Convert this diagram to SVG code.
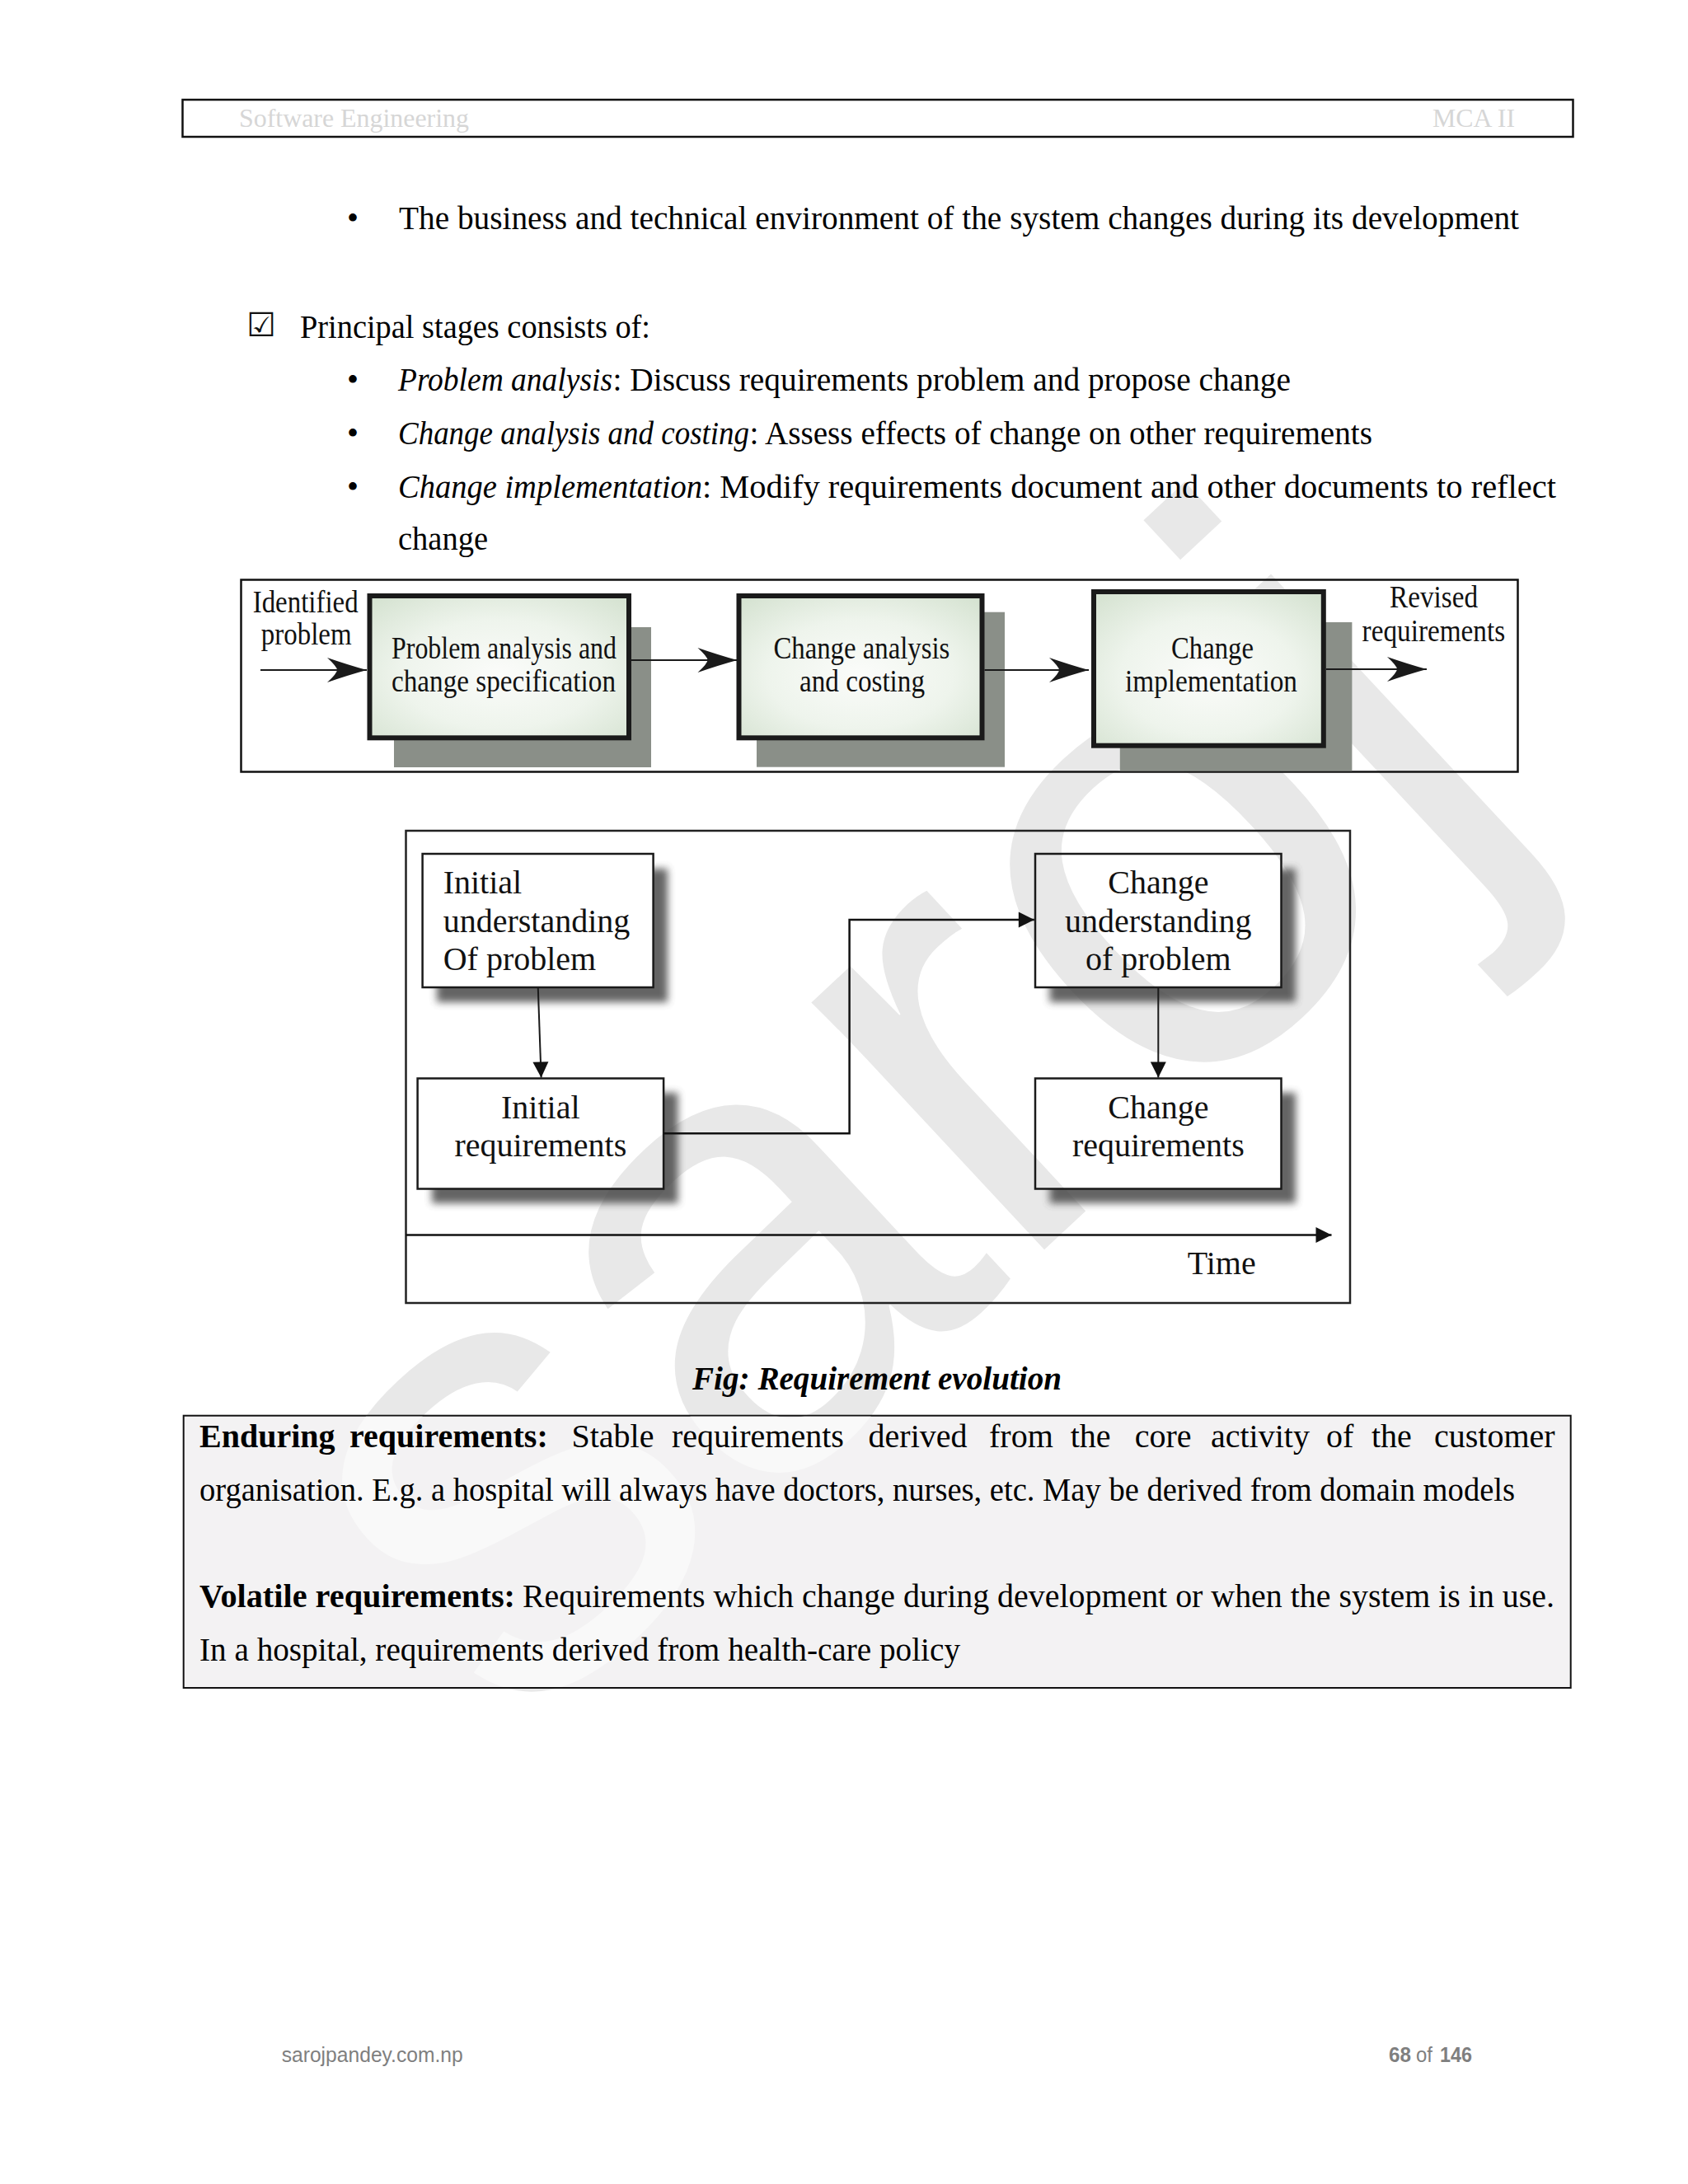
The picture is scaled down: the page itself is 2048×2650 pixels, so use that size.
<svg xmlns="http://www.w3.org/2000/svg" xmlns:xlink="http://www.w3.org/1999/xlink" width="2048" height="2650" viewBox="0 0 2048 2650">
<defs>
<style>
.body{font-family:"Liberation Serif","Times New Roman",serif;font-size:40px;fill:#000}
.it{font-style:italic}
.bd{font-weight:bold}
.hdr{font-family:"Liberation Serif","Times New Roman",serif;font-size:32px;fill:#d6d6d6}
.d1{font-family:"Liberation Serif","Times New Roman",serif;font-size:38px;fill:#111}
.d2{font-family:"Liberation Serif","Times New Roman",serif;font-size:40px;fill:#111}
.ft{font-family:"Liberation Sans",Arial,sans-serif;font-size:25px;fill:#7f7f7f}
.wm{font-family:"Liberation Sans",Arial,sans-serif;font-size:780px}
.box1{fill:url(#g1);stroke:#1a1a1a;stroke-width:6}
.sh1{fill:#8a8f88}
.box2{fill:none;stroke:#1a1a1a;stroke-width:2.5}
.sh2{fill:#4a4a4a;opacity:.85;filter:url(#blur)}
.ln1{fill:none;stroke:#1a1a1a;stroke-width:2}
.ln2{fill:none;stroke:#111;stroke-width:2.5}
</style>
<radialGradient id="g1" cx="50%" cy="55%" r="70%">
<stop offset="0" stop-color="#fbfcfa"/>
<stop offset="0.55" stop-color="#eef4ec"/>
<stop offset="1" stop-color="#d6e3d2"/>
</radialGradient>
<filter id="blur" x="-20%" y="-20%" width="140%" height="140%"><feGaussianBlur stdDeviation="5"/></filter>
<mask id="holes" maskUnits="userSpaceOnUse" x="0" y="0" width="2048" height="2650">
<rect width="2048" height="2650" fill="#fff"/>
<rect x="512.6" y="1036" width="280" height="162" fill="#000"/>
<rect x="506.6" y="1308.5" width="298.5" height="134" fill="#000"/>
<rect x="1256" y="1036" width="298.5" height="162" fill="#000"/>
<rect x="1256" y="1308.5" width="298.5" height="134" fill="#000"/>
</mask>
<clipPath id="graybox"><rect x="223.7" y="1718.7" width="1681" height="328.3"/></clipPath>
<marker id="barb" markerUnits="userSpaceOnUse" viewBox="-50 -17 52 34" refX="0" refY="0" markerWidth="52" markerHeight="34" orient="auto">
<path d="M0,0 Q-22,-6 -48,-15 Q-36,-4 -36,0 Q-36,4 -48,15 Q-22,6 0,0Z" fill="#1a1a1a"/>
</marker>
<marker id="tri" markerUnits="userSpaceOnUse" viewBox="-20 -10 21 20" refX="0" refY="0" markerWidth="21" markerHeight="20" orient="auto">
<path d="M0,0 L-19,-9.5 L-19,9.5Z" fill="#111"/>
</marker>
</defs>
<rect width="2048" height="2650" fill="#fff"/>

<g id="watermark" fill="#e8e8e8">
<text id="wmtext" class="wm" transform="translate(625,2115) rotate(-43)">saroj</text>
</g>

<g id="header">
<rect x="221.5" y="121" width="1687" height="45" fill="none" stroke="#111" stroke-width="2.5"/>
<text class="hdr" x="290" y="154" textLength="279" lengthAdjust="spacingAndGlyphs">Software Engineering</text>
<text class="hdr" x="1738" y="154" textLength="100" lengthAdjust="spacingAndGlyphs">MCA II</text>
</g>

<g id="text-top">
<text class="body" x="428" y="278" text-anchor="middle">•</text>
<text class="body" x="484" y="278" textLength="1359" lengthAdjust="spacingAndGlyphs">The business and technical environment of the system changes during its development</text>
<text x="299" y="408" font-family="DejaVu Sans,sans-serif" font-size="40" font-weight="bold" fill="#111">☑</text>
<text class="body" x="364" y="410" textLength="425" lengthAdjust="spacingAndGlyphs">Principal stages consists of:</text>
<text class="body" x="428" y="474" text-anchor="middle">•</text>
<text class="body it" x="483" y="474" textLength="260" lengthAdjust="spacingAndGlyphs">Problem analysis</text>
<text class="body" x="743.5" y="474" textLength="822.5" lengthAdjust="spacingAndGlyphs">: Discuss requirements problem and propose change</text>
<text class="body" x="428" y="539" text-anchor="middle">•</text>
<text class="body it" x="483" y="539" textLength="426" lengthAdjust="spacingAndGlyphs">Change analysis and costing</text>
<text class="body" x="909.4" y="539" textLength="755.6" lengthAdjust="spacingAndGlyphs">: Assess effects of change on other requirements</text>
<text class="body" x="428" y="604" text-anchor="middle">•</text>
<text class="body it" x="483" y="604" textLength="369" lengthAdjust="spacingAndGlyphs">Change implementation</text>
<text class="body" x="852" y="604" textLength="1036" lengthAdjust="spacingAndGlyphs">: Modify requirements document and other documents to reflect</text>
<text class="body" x="483" y="667" textLength="109" lengthAdjust="spacingAndGlyphs">change</text>
</g>

<g id="diagram1">
<rect x="292.5" y="703.5" width="1549" height="233" fill="none" stroke="#111" stroke-width="2.5"/>
<g id="d1-identified">
<text class="d1" x="306.7" y="742.5" textLength="128" lengthAdjust="spacingAndGlyphs">Identified</text>
<text class="d1" x="316.7" y="781.7" textLength="110" lengthAdjust="spacingAndGlyphs">problem</text>
</g>
<g id="d1-problem-analysis">
<rect class="sh1" x="478" y="761" width="312" height="170"/>
<rect class="box1" x="448.5" y="723" width="314.5" height="172.3"/>
<text class="d1" x="475" y="799.3" textLength="273" lengthAdjust="spacingAndGlyphs">Problem analysis and</text>
<text class="d1" x="475" y="839.3" textLength="272" lengthAdjust="spacingAndGlyphs">change specification</text>
</g>
<g id="d1-change-analysis">
<rect class="sh1" x="918" y="742.7" width="301" height="188"/>
<rect class="box1" x="896.5" y="723" width="295" height="172.3"/>
<text class="d1" x="938.4" y="799.3" textLength="214" lengthAdjust="spacingAndGlyphs">Change analysis</text>
<text class="d1" x="970" y="839.3" textLength="152" lengthAdjust="spacingAndGlyphs">and costing</text>
</g>
<g id="d1-change-impl">
<rect class="sh1" x="1358.8" y="755" width="281.6" height="180.5"/>
<rect class="box1" x="1327" y="718" width="278.8" height="186.7"/>
<text class="d1" x="1421" y="799.3" textLength="100" lengthAdjust="spacingAndGlyphs">Change</text>
<text class="d1" x="1365" y="839.3" textLength="209" lengthAdjust="spacingAndGlyphs">implementation</text>
</g>
<g id="d1-revised">
<text class="d1" x="1686" y="737.3" textLength="107" lengthAdjust="spacingAndGlyphs">Revised</text>
<text class="d1" x="1652.6" y="778.3" textLength="173.5" lengthAdjust="spacingAndGlyphs">requirements</text>
</g>
<g id="d1-connectors">
<path class="ln1" d="M316,813 L445,813" marker-end="url(#barb)"/>
<path class="ln1" d="M766,801 L894.5,801" marker-end="url(#barb)"/>
<path class="ln1" d="M1194.5,813 L1321,813" marker-end="url(#barb)"/>
<path class="ln1" d="M1609,812 L1731,812" marker-end="url(#barb)"/>
</g>
</g>

<g id="diagram2">
<rect x="492.5" y="1008" width="1145.5" height="573" fill="none" stroke="#222" stroke-width="2.5"/>
<g id="d2-initial-understanding">
<rect class="sh2" x="530" y="1054" width="280" height="162" mask="url(#holes)"/>
<rect class="box2" x="512.6" y="1036" width="280" height="162"/>
<text class="d2" x="537.7" y="1084">Initial</text>
<text class="d2" x="537.7" y="1131">understanding</text>
<text class="d2" x="537.7" y="1177">Of problem</text>
</g>
<g id="d2-initial-requirements">
<rect class="sh2" x="524" y="1326" width="298.5" height="134" mask="url(#holes)"/>
<rect class="box2" x="506.6" y="1308.5" width="298.5" height="134"/>
<text class="d2" x="655.8" y="1357" text-anchor="middle">Initial</text>
<text class="d2" x="655.8" y="1403" text-anchor="middle">requirements</text>
</g>
<g id="d2-change-understanding">
<rect class="sh2" x="1273.5" y="1054" width="298.5" height="162" mask="url(#holes)"/>
<rect class="box2" x="1256" y="1036" width="298.5" height="162"/>
<text class="d2" x="1405.3" y="1084" text-anchor="middle">Change</text>
<text class="d2" x="1405.3" y="1131" text-anchor="middle">understanding</text>
<text class="d2" x="1405.3" y="1177" text-anchor="middle">of problem</text>
</g>
<g id="d2-change-requirements">
<rect class="sh2" x="1273.5" y="1326" width="298.5" height="134" mask="url(#holes)"/>
<rect class="box2" x="1256" y="1308.5" width="298.5" height="134"/>
<text class="d2" x="1405.3" y="1357" text-anchor="middle">Change</text>
<text class="d2" x="1405.3" y="1403" text-anchor="middle">requirements</text>
</g>
<g id="d2-connectors">
<path class="ln1" d="M652.8,1199 L656.6,1307.5" marker-end="url(#tri)"/>
<path class="ln2" d="M805,1375.3 H1030.6 V1116 H1254.8" stroke-width="3" marker-end="url(#tri)"/>
<path class="ln1" d="M1405.3,1199 V1307.5" marker-end="url(#tri)"/>
<path class="ln2" d="M492.5,1498.6 H1615.5" marker-end="url(#tri)"/>
</g>
<text class="d2" x="1440.7" y="1545.6">Time</text>
</g>

<text class="body it bd" x="840" y="1686" textLength="448" lengthAdjust="spacingAndGlyphs">Fig: Requirement evolution</text>

<g id="definitions">
<rect x="222.7" y="1717.7" width="1683" height="330.3" fill="#f3f2f3" stroke="#111" stroke-width="2"/>
<use xlink:href="#wmtext" href="#wmtext" fill="#f9f9f9" clip-path="url(#graybox)"/>
<text class="body" y="1756"><tspan class="bd" x="242">Enduring</tspan><tspan class="bd" x="424">requirements:</tspan><tspan x="693.5">Stable</tspan><tspan x="815">requirements</tspan><tspan x="1053.6">derived</tspan><tspan x="1200">from</tspan><tspan x="1298.7">the</tspan><tspan x="1376.8">core</tspan><tspan x="1469">activity</tspan><tspan x="1609">of</tspan><tspan x="1664">the</tspan><tspan x="1740">customer</tspan></text>
<text class="body" x="242" y="1821" textLength="1596" lengthAdjust="spacingAndGlyphs">organisation. E.g. a hospital will always have doctors, nurses, etc. May be derived from domain models</text>
<text class="body bd" x="242" y="1950" textLength="383" lengthAdjust="spacingAndGlyphs">Volatile requirements:</text>
<text class="body" x="634" y="1950" textLength="1252" lengthAdjust="spacingAndGlyphs">Requirements which change during development or when the system is in use.</text>
<text class="body" x="242" y="2015" textLength="923" lengthAdjust="spacingAndGlyphs">In a hospital, requirements derived from health-care policy</text>
</g>

<g id="footer">
<text class="ft" x="341.7" y="2502" textLength="220" lengthAdjust="spacingAndGlyphs">sarojpandey.com.np</text>
<text class="ft bd" x="1685" y="2502" textLength="27" lengthAdjust="spacingAndGlyphs">68</text>
<text class="ft" x="1718" y="2502" textLength="20" lengthAdjust="spacingAndGlyphs">of</text>
<text class="ft bd" x="1747" y="2502" textLength="39" lengthAdjust="spacingAndGlyphs">146</text>
</g>
</svg>
